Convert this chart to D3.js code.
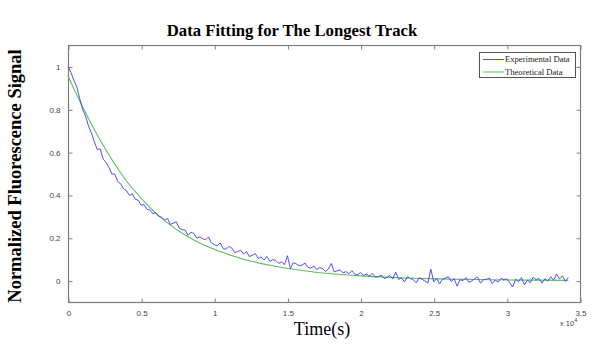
<!DOCTYPE html>
<html>
<head>
<meta charset="utf-8">
<script src="https://cdn.jsdelivr.net/npm/d3@7"></script>
<style>
  html, body { margin: 0; padding: 0; background: #fff; }
  svg { display: block; }
</style>
</head>
<body>
<script>
// ---------- data ----------
const xTicks = [0, 0.5, 1, 1.5, 2, 2.5, 3, 3.5];            // ×10^4 s
const yTicks = [0, 0.2, 0.4, 0.6, 0.8, 1];
const seriesNames = ["Experimental Data", "Theoretical Data"];

// Experimental data, sampled every 0.02 ×10^4 s from t = 0
const expStep = 0.02;
const expValues = [
  1.000, 0.972, 0.935, 0.905, 0.850, 0.800, 0.768, 0.722, 0.690, 0.648,
  0.612, 0.615, 0.568, 0.552, 0.528, 0.498, 0.497, 0.462, 0.452, 0.428,
  0.420, 0.398, 0.405, 0.380, 0.375, 0.352, 0.355, 0.332, 0.330, 0.312,
  0.318, 0.300, 0.296, 0.282, 0.290, 0.262, 0.268, 0.275, 0.246, 0.238,
  0.236, 0.212, 0.226, 0.220, 0.198, 0.204, 0.196, 0.190, 0.204, 0.176,
  0.168, 0.162, 0.176, 0.150, 0.146, 0.160, 0.152, 0.130, 0.136, 0.142,
  0.124, 0.136, 0.112, 0.118, 0.126, 0.104, 0.110, 0.096, 0.112, 0.090,
  0.098, 0.094, 0.080, 0.088, 0.074, 0.116, 0.056, 0.084, 0.078, 0.070,
  0.072, 0.082, 0.062, 0.058, 0.068, 0.052, 0.060, 0.056, 0.042, 0.054,
  0.080, 0.040, 0.046, 0.050, 0.036, 0.042, 0.032, 0.046, 0.030, 0.028,
  0.038, 0.024, 0.030, 0.020, 0.034, 0.016, 0.018, 0.026, 0.010, 0.014,
  0.024, 0.008, 0.040, 0.006, 0.012, -0.006, 0.018, 0.010, 0.004, -0.010,
  0.014, 0.006, -0.002, -0.012, 0.054, -0.006, 0.010, -0.016, 0.006, 0.012,
  0.018, -0.004, 0.008, -0.026, 0.004, 0.000, 0.014, -0.008, -0.002, 0.010,
  0.016, -0.012, 0.004, 0.006, 0.012, -0.014, 0.002, -0.006, 0.010, 0.004,
  0.008, -0.010, -0.030, 0.006, -0.004, 0.014, -0.020, 0.002, -0.010, 0.016,
  0.004, 0.010, -0.012, 0.008, -0.002, 0.018, 0.002, 0.030, 0.008, 0.022,
  -0.004, 0.014
];

// Theoretical (fitted) curve
const theoTimes  = [0, 0.1, 0.2, 0.3, 0.4, 0.5, 0.6, 0.7, 0.8, 0.9, 1.0, 1.2, 1.4, 1.6, 1.8, 2.0, 2.2, 2.4, 2.6, 2.8, 3.0, 3.2, 3.42];
const theoValues = [0.955, 0.810, 0.680, 0.565, 0.465, 0.385, 0.315, 0.259, 0.213, 0.176, 0.146, 0.100, 0.069, 0.047, 0.032, 0.022, 0.015, 0.010, 0.007, 0.005, 0.003, 0.002, 0.001];

// ---------- layout ----------
const W = 615, H = 361;
const plot = { left: 68, right: 580, top: 45, bottom: 302 };

const svg = d3.select("body").append("svg").attr("width", W).attr("height", H);

const x = d3.scaleLinear().domain([0, 3.5]).range([plot.left, plot.right]);
const y = d3.scaleLinear().domain([-0.1, 1.1]).range([plot.bottom, plot.top]);

const axisColor = "#7f7f7f";
const tickFont = "'Liberation Sans', Arial, sans-serif";
const serif = "'Liberation Serif', 'Times New Roman', serif";

// frame
svg.append("rect")
  .attr("x", plot.left + 0.5).attr("y", plot.top + 0.5)
  .attr("width", plot.right - plot.left).attr("height", plot.bottom - plot.top)
  .attr("fill", "#fff").attr("stroke", axisColor).attr("stroke-width", 1.2);

function styleAxis(g, showLabels) {
  g.select(".domain").remove();
  g.selectAll(".tick line").attr("stroke", axisColor).attr("stroke-width", 1);
  g.selectAll(".tick text").attr("fill", "#444").attr("font-family", tickFont).attr("font-size", 8);
  if (!showLabels) g.selectAll(".tick text").remove();
}
const fmt = d => String(d);

// bottom axis (ticks inward)
svg.append("g").attr("transform", `translate(0.5,${plot.bottom + 0.5})`)
  .call(d3.axisBottom(x).tickValues(xTicks).tickFormat(fmt).tickSizeInner(-4).tickSizeOuter(0).tickPadding(8))
  .call(g => styleAxis(g, true));
// top axis
svg.append("g").attr("transform", `translate(0.5,${plot.top + 0.5})`)
  .call(d3.axisTop(x).tickValues(xTicks).tickSizeInner(-4).tickSizeOuter(0))
  .call(g => styleAxis(g, false));
// left axis
svg.append("g").attr("transform", `translate(${plot.left + 0.5},0.5)`)
  .call(d3.axisLeft(y).tickValues(yTicks).tickFormat(fmt).tickSizeInner(-4).tickSizeOuter(0).tickPadding(8))
  .call(g => styleAxis(g, true));
// right axis
svg.append("g").attr("transform", `translate(${plot.right + 0.5},0.5)`)
  .call(d3.axisRight(y).tickValues(yTicks).tickSizeInner(-4).tickSizeOuter(0))
  .call(g => styleAxis(g, false));

// exponent label
const expo = svg.append("text").attr("x", 560).attr("y", 326)
  .attr("font-family", tickFont).attr("font-size", 7.5).attr("fill", "#444");
expo.append("tspan").text("x 10");
expo.append("tspan").attr("dy", -4).attr("font-size", 5.5).text("4");

// ---------- lines ----------
const expData = expValues.map((v, i) => [i * expStep, v]);
const theoData = theoTimes.map((t, i) => [t, theoValues[i]]);

const line = d3.line().x(d => x(d[0])).y(d => y(d[1]));
const smooth = d3.line().x(d => x(d[0])).y(d => y(d[1])).curve(d3.curveMonotoneX);

const blue = "#4646ff", green = "#5cbf5c";

svg.append("path").datum(theoData).attr("d", smooth)
  .attr("fill", "none").attr("stroke", green).attr("stroke-width", 1.1);
svg.append("path").datum(expData).attr("d", line)
  .attr("fill", "none").attr("stroke", blue).attr("stroke-width", 0.95).attr("stroke-linejoin", "round");

// ---------- legend ----------
const lg = svg.append("g");
lg.append("rect").attr("x", 479.5).attr("y", 52.5).attr("width", 96).attr("height", 25)
  .attr("fill", "#fff").attr("stroke", "#555").attr("stroke-width", 1);
const legColors = [blue, green];
seriesNames.forEach((name, i) => {
  const yy = 59.5 + i * 12.5;
  lg.append("line").attr("x1", 483).attr("x2", 504).attr("y1", yy).attr("y2", yy)
    .attr("stroke", legColors[i]).attr("stroke-width", 1);
  lg.append("text").attr("x", 505).attr("y", yy + 2.8)
    .attr("font-family", serif).attr("font-size", 8.6)
    .attr("fill", "#222").text(name);
});

// ---------- titles ----------
svg.append("text").attr("x", 292).attr("y", 36).attr("text-anchor", "middle")
  .attr("font-family", serif).attr("font-weight", "bold")
  .attr("font-size", 16.7).attr("fill", "#000").text("Data Fitting for The Longest Track");

svg.append("text").attr("x", 322).attr("y", 335).attr("text-anchor", "middle")
  .attr("font-family", serif)
  .attr("font-size", 18).attr("fill", "#000").text("Time(s)");

svg.append("text").attr("transform", "translate(21,176) rotate(-90)").attr("text-anchor", "middle")
  .attr("font-family", serif).attr("font-weight", "bold")
  .attr("font-size", 18.5).attr("fill", "#000").text("Normalized Fluorescence Signal");
</script>
</body>
</html>
